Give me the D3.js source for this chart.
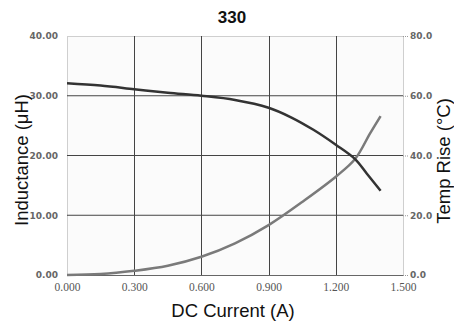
<!DOCTYPE html>
<html><head><meta charset="utf-8">
<script src="https://cdn.jsdelivr.net/npm/d3@7"></script>
<style>body{margin:0;background:#fff}svg{display:block}</style>
</head><body>
<script>
const title = "330";
const xTicks = [0, 0.3, 0.6, 0.9, 1.2, 1.5];
const leftTicks = [0, 10, 20, 30, 40];
const rightTicks = [0, 20, 40, 60, 80];
const indCurrent = [0, 0.15, 0.3, 0.45, 0.6, 0.75, 0.9, 1.0, 1.1, 1.2, 1.286, 1.338, 1.4];
const indValues  = [32.1, 31.7, 31.1, 30.5, 30.0, 29.3, 28.0, 26.4, 24.3, 21.8, 19.4, 17.0, 14.1];
const tempCurrent = [0, 0.15, 0.3, 0.45, 0.6, 0.75, 0.9, 1.062, 1.2, 1.286, 1.353, 1.4];
const tempValues  = [0, 0.3, 1.4, 3.1, 6.1, 10.6, 16.7, 25.1, 32.9, 38.8, 47.4, 53.2];

const W = 454, H = 322;
const m = {left: 67, right: 403, top: 36, bottom: 275};
const svg = d3.select("body").append("svg").attr("width", W).attr("height", H);

const x = d3.scaleLinear().domain([0, 1.5]).range([m.left, m.right]);
const yL = d3.scaleLinear().domain([0, 40]).range([m.bottom, m.top]);
const yR = d3.scaleLinear().domain([0, 80]).range([m.bottom, m.top]);

// plot background
svg.append("rect").attr("x", m.left + 0.5).attr("y", m.top + 0.5)
  .attr("width", m.right - m.left).attr("height", m.bottom - m.top)
  .attr("fill", "#fbfbfb").attr("stroke", "#cfcfcf").attr("stroke-width", 1);

// grid
svg.append("g").selectAll("line").data(leftTicks.filter(d => d > 0 && d < 40)).join("line")
  .attr("x1", m.left).attr("x2", m.right)
  .attr("y1", d => yL(d)).attr("y2", d => yL(d))
  .attr("stroke", "#444").attr("stroke-width", 1);
svg.append("g").selectAll("line").data(xTicks.filter(d => d > 0 && d < 1.5)).join("line")
  .attr("y1", m.top).attr("y2", m.bottom)
  .attr("x1", d => Math.round(x(d)) + 0.5).attr("x2", d => Math.round(x(d)) + 0.5)
  .attr("stroke", "#444").attr("stroke-width", 1);
// baseline
svg.append("line").attr("x1", m.left).attr("x2", m.right)
  .attr("y1", m.bottom + 0.5).attr("y2", m.bottom + 0.5).attr("stroke", "#666");

// left axis
const gl = svg.append("g").attr("transform", `translate(${m.left},0)`)
  .call(d3.axisLeft(yL).tickValues(leftTicks).tickFormat(d3.format(".2f")).tickSize(0).tickPadding(9));
gl.select(".domain").remove();
gl.selectAll("text").attr("font-family", "DejaVu Sans, Verdana, sans-serif").attr("font-weight", "bold")
  .attr("font-size", 9).attr("fill", "#666");

// right axis
const gr = svg.append("g").attr("transform", `translate(${m.right},0)`)
  .call(d3.axisRight(yR).tickValues(rightTicks).tickFormat(d3.format(".1f")).tickSize(5).tickPadding(2));
gr.select(".domain").remove();
gr.selectAll("line").attr("stroke", "#999").attr("stroke-dasharray", "1,1");
gr.selectAll("text").attr("font-family", "DejaVu Sans, Verdana, sans-serif").attr("font-weight", "bold")
  .attr("font-size", 9).attr("fill", "#666");

// bottom axis
const gb = svg.append("g").attr("transform", `translate(0,${m.bottom})`)
  .call(d3.axisBottom(x).tickValues(xTicks).tickFormat(d3.format(".3f")).tickSize(0).tickPadding(8));
gb.select(".domain").remove();
gb.selectAll("text").attr("font-family", "Liberation Serif, Times New Roman, serif")
  .attr("font-size", 11.5).attr("fill", "#555");

// curves
const lineInd = d3.line().x((d, i) => x(indCurrent[i])).y(d => yL(d)).curve(d3.curveCatmullRom.alpha(0.5));
const lineTemp = d3.line().x((d, i) => x(tempCurrent[i])).y(d => yR(d)).curve(d3.curveCatmullRom.alpha(0.5));
svg.append("path").attr("d", lineTemp(tempValues)).attr("fill", "none")
  .attr("stroke", "#7a7a7a").attr("stroke-width", 2.5);
svg.append("path").attr("d", lineInd(indValues)).attr("fill", "none")
  .attr("stroke", "#333").attr("stroke-width", 2.5);

// titles
svg.append("text").attr("x", 232).attr("y", 23).attr("text-anchor", "middle")
  .attr("font-family", "Liberation Sans, Arial, sans-serif").attr("font-weight", "bold")
  .attr("font-size", 17).attr("fill", "#111").text(title);
svg.append("text").attr("x", 233).attr("y", 317).attr("text-anchor", "middle")
  .attr("font-family", "Liberation Sans, Arial, sans-serif").attr("font-size", 18.5)
  .attr("fill", "#111").text("DC Current (A)");
svg.append("text").attr("transform", `translate(28,160) rotate(-90)`)
  .attr("text-anchor", "middle").attr("font-family", "Liberation Sans, Arial, sans-serif")
  .attr("font-size", 18.5).attr("fill", "#111").text("Inductance (μH)");
svg.append("text").attr("transform", `translate(450,161) rotate(-90)`)
  .attr("text-anchor", "middle").attr("font-family", "Liberation Sans, Arial, sans-serif")
  .attr("font-size", 18.5).attr("fill", "#111").text("Temp Rise (°C)");
</script>
</body></html>
